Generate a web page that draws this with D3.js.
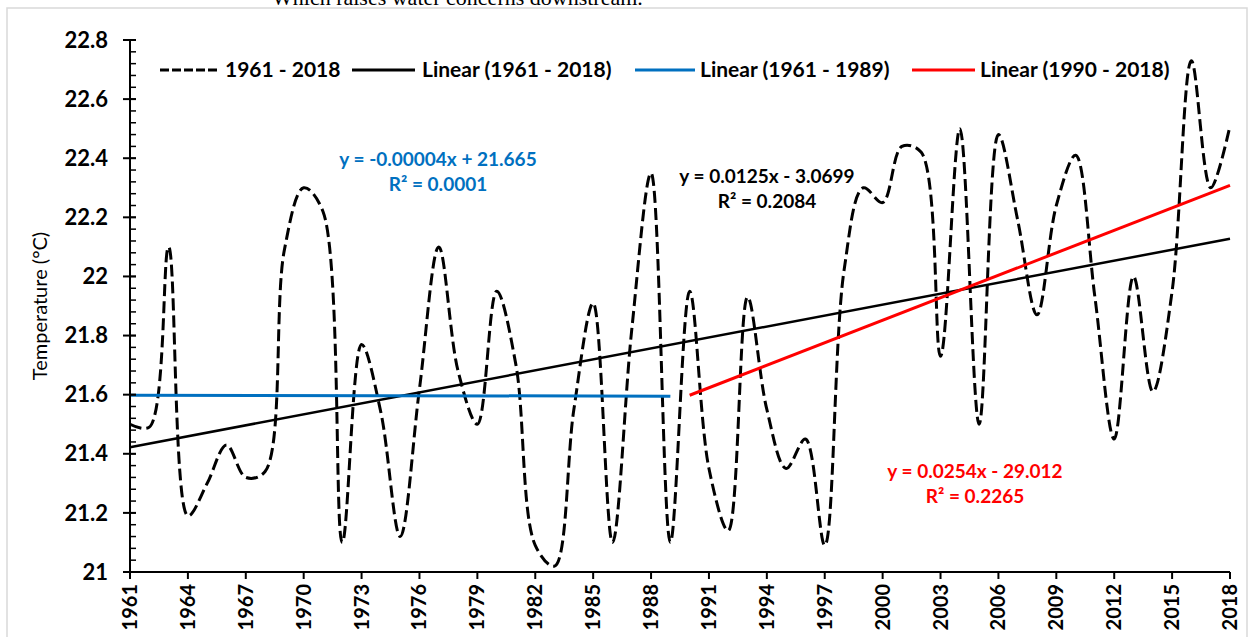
<!DOCTYPE html>
<html>
<head>
<meta charset="utf-8">
<script src="https://cdn.jsdelivr.net/npm/d3@7"></script>
<style>
  body { margin: 0; background: #fff; }
  svg { display: block; }
</style>
</head>
<body>
<script>
// annual mean temperature
var years = d3.range(1961, 2019);
var temps = [
  21.50, 21.49, 22.10, 21.19, 21.30, 21.43, 21.32, 21.34, 22.09, 22.30,
  22.22, 21.10, 21.77, 21.54, 21.12, 21.62, 22.10, 21.68, 21.50, 21.95,
  21.70, 21.09, 21.02, 21.55, 21.91, 21.10, 21.82, 22.35, 21.10, 21.95,
  21.35, 21.14, 21.93, 21.55, 21.35, 21.45, 21.09, 22.02, 22.30, 22.25,
  22.44, 22.42, 21.73, 22.50, 21.50, 22.48, 22.19, 21.87, 22.24, 22.41,
  21.93, 21.45, 22.00, 21.61, 21.95, 22.73, 22.30, 22.51
];
var yTicks = [21, 21.2, 21.4, 21.6, 21.8, 22, 22.2, 22.4, 22.6, 22.8];
var xTicks = d3.range(1961, 2019, 3);

var legendNames = ["1961 - 2018", "Linear (1961 - 2018)", "Linear (1961 - 1989)", "Linear (1990 - 2018)"];
var trendRanges = [[1961, 2018], [1961, 1989], [1990, 2018]];
var trendColors = ["#000000", "#0070C0", "#FF0000"];
var eqLines = [
  ["y = 0.0125x - 3.0699", "R² = 0.2084"],
  ["y = -0.00004x + 21.665", "R² = 0.0001"],
  ["y = 0.0254x - 29.012", "R² = 0.2265"]
];

var W = 1250, H = 637;
var font = "Lato, 'Open Sans', sans-serif";

var x = d3.scaleLinear().domain([1961, 2018]).range([130, 1230]);
var y = d3.scaleLinear().domain([21, 22.8]).range([572, 40]);

var svg = d3.select("body").append("svg")
    .attr("width", W)
    .attr("height", H);

// clipped caption line from the page above the figure
svg.append("text")
    .attr("x", 272).attr("y", 5)
    .style("font-family", "'Liberation Serif', 'Times New Roman', serif")
    .style("font-size", "22px")
    .text("Which raises water concerns downstream.");

// figure frame
svg.append("rect")
    .attr("x", 7).attr("y", 8)
    .attr("width", 1240).attr("height", 640)
    .attr("fill", "none")
    .attr("stroke", "#d9d9d9")
    .attr("stroke-width", 1.5);

// least squares for trend lines
function fit(x0, x1) {
  var xs = [], ys = [];
  years.forEach(function (yr, i) {
    if (yr >= x0 && yr <= x1) { xs.push(yr); ys.push(temps[i]); }
  });
  var mx = d3.mean(xs), my = d3.mean(ys);
  var sxy = 0, sxx = 0;
  xs.forEach(function (v, i) { sxy += (v - mx) * (ys[i] - my); sxx += (v - mx) * (v - mx); });
  var b = sxy / sxx;
  return { b: b, a: my - b * mx };
}

// dashed series
var line = d3.line()
    .x(function (d) { return x(d[0]); })
    .y(function (d) { return y(d[1]); })
    .curve(d3.curveCatmullRom.alpha(0.5));

svg.append("path")
    .datum(years.map(function (yr, i) { return [yr, temps[i]]; }))
    .attr("d", line)
    .attr("fill", "none")
    .attr("stroke", "#000")
    .attr("stroke-width", 3)
    .attr("stroke-dasharray", "12,5");

// trend lines
trendRanges.forEach(function (r, k) {
  var f = fit(r[0], r[1]);
  svg.append("line")
      .attr("x1", x(r[0])).attr("y1", y(f.a + f.b * r[0]))
      .attr("x2", x(r[1])).attr("y2", y(f.a + f.b * r[1]))
      .attr("stroke", trendColors[k])
      .attr("stroke-width", k == 0 ? 2.5 : 3);
});

// y axis
var yAxis = svg.append("g").attr("transform", "translate(130,0)");
yAxis.append("line").attr("x1", 0).attr("x2", 0).attr("y1", y(22.8)).attr("y2", y(21))
    .attr("stroke", "#000").attr("stroke-width", 2);
d3.range(21, 22.801, 0.04).forEach(function (v) {
  yAxis.append("line").attr("x1", 0).attr("x2", 6).attr("y1", y(v)).attr("y2", y(v))
      .attr("stroke", "#000").attr("stroke-width", 1.5);
});
yTicks.forEach(function (v) {
  yAxis.append("line").attr("x1", -7).attr("x2", 6).attr("y1", y(v)).attr("y2", y(v))
      .attr("stroke", "#000").attr("stroke-width", 2);
  yAxis.append("text")
      .attr("x", -22).attr("y", y(v)).attr("dy", "0.35em")
      .attr("text-anchor", "end")
      .style("font-family", font).style("font-weight", "bold").style("font-size", "22px")
      .text(d3.format("~g")(v));
});

// x axis
var xAxis = svg.append("g");
xAxis.append("line").attr("x1", x(1961)).attr("x2", x(2018)).attr("y1", 572).attr("y2", 572)
    .attr("stroke", "#000").attr("stroke-width", 2);
xTicks.forEach(function (v) {
  xAxis.append("line").attr("x1", x(v)).attr("x2", x(v)).attr("y1", 572).attr("y2", 579)
      .attr("stroke", "#000").attr("stroke-width", 2);
  xAxis.append("text")
      .attr("transform", "translate(" + x(v) + ",584) rotate(-90)")
      .attr("dy", "0.35em")
      .attr("text-anchor", "end")
      .style("font-family", font).style("font-weight", "bold").style("font-size", "20px")
      .text(v);
});

// y title
svg.append("text")
    .attr("transform", "translate(40,306) rotate(-90)")
    .attr("text-anchor", "middle")
    .attr("dy", "0.35em")
    .style("font-family", font).style("font-size", "20px")
    .text("Temperature (°C)");

// legend
var legendX = [[160, 218, 225], [352, 415, 422], [635, 695, 700], [912, 975, 980]];
var legendStroke = ["#000", "#000", "#0070C0", "#FF0000"];
legendNames.forEach(function (name, i) {
  var p = legendX[i];
  svg.append("line")
      .attr("x1", p[0]).attr("x2", p[1]).attr("y1", 70).attr("y2", 70)
      .attr("stroke", legendStroke[i]).attr("stroke-width", 3)
      .attr("stroke-dasharray", i == 0 ? "9,3" : null);
  svg.append("text")
      .attr("x", p[2]).attr("y", 70).attr("dy", "0.35em")
      .style("font-family", font).style("font-weight", "bold").style("font-size", "21px")
      .text(name);
});

// equation labels
var eqPos = [[767, 176], [438, 159], [975, 471]];
eqLines.forEach(function (lines, k) {
  lines.forEach(function (t, j) {
    svg.append("text")
        .attr("x", eqPos[k][0]).attr("y", eqPos[k][1] + j * 25).attr("dy", "0.35em")
        .attr("text-anchor", "middle")
        .attr("fill", trendColors[k])
        .style("font-family", font).style("font-weight", "bold").style("font-size", "19px")
        .text(t);
  });
});
</script>
</body>
</html>
